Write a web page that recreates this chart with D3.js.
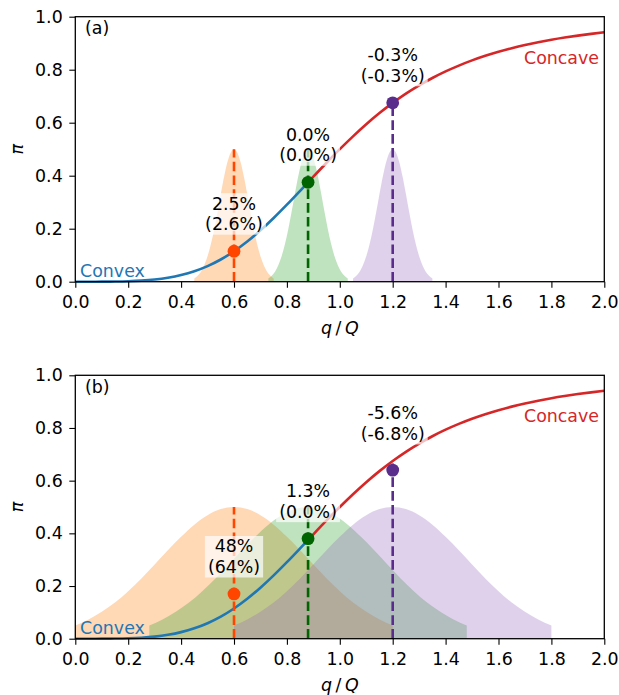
<!DOCTYPE html>
<html>
<head>
<meta charset="utf-8">
<script src="https://cdn.jsdelivr.net/npm/d3@7"></script>
<style>
body { margin: 0; background: #fff; }
text { font-family: "DejaVu Sans", sans-serif; }
</style>
</head>
<body>
<script>
// curva pi(q/Q)
var curvaX = [0, 0.05, 0.1, 0.15, 0.2, 0.25, 0.3, 0.35, 0.4, 0.45, 0.5, 0.55, 0.6, 0.65, 0.7, 0.75, 0.8, 0.85, 0.88,
              0.9, 0.95, 1.0, 1.05, 1.1, 1.15, 1.2, 1.25, 1.3, 1.35, 1.4, 1.45, 1.5, 1.55, 1.6, 1.65, 1.7, 1.75, 1.8, 1.85, 1.9, 1.95, 2.0]
var curvaY = [0, 0, 0.0001, 0.0005, 0.0016, 0.0039, 0.008, 0.0148, 0.025, 0.0394, 0.0588, 0.0838, 0.1147, 0.1515, 0.1936, 0.2404, 0.2906, 0.343, 0.3749,
              0.3962, 0.4489, 0.5, 0.5486, 0.5942, 0.6362, 0.6747, 0.7094, 0.7407, 0.7686, 0.7935, 0.8155, 0.8351, 0.8523, 0.8676, 0.8811, 0.8931, 0.9036, 0.913, 0.9213, 0.9287, 0.9353, 0.9412]
var corte = 0.88

var centros = [0.6, 0.88, 1.2]

// forma de las distribuciones (desplazamiento respecto al centro, altura)
var offsetsA = [-0.15, -0.1375, -0.125, -0.1125, -0.1, -0.0875, -0.075, -0.0625, -0.05, -0.0375, -0.025, -0.0125, 0,
                0.0125, 0.025, 0.0375, 0.05, 0.0625, 0.075, 0.0875, 0.1, 0.1125, 0.125, 0.1375, 0.15]
var alturasA = [0.012, 0.022, 0.038, 0.062, 0.096, 0.141, 0.197, 0.262, 0.331, 0.396, 0.451, 0.487, 0.5,
                0.487, 0.451, 0.396, 0.331, 0.262, 0.197, 0.141, 0.096, 0.062, 0.038, 0.022, 0.012]
var offsetsB = [-0.6, -0.55, -0.5, -0.45, -0.4, -0.35, -0.3, -0.25, -0.2, -0.15, -0.1, -0.05, 0,
                0.05, 0.1, 0.15, 0.2, 0.25, 0.3, 0.35, 0.4, 0.45, 0.5, 0.55, 0.6]
var alturasB = [0.05, 0.073, 0.102, 0.137, 0.18, 0.229, 0.282, 0.336, 0.387, 0.433, 0.469, 0.492, 0.5,
                0.492, 0.469, 0.433, 0.387, 0.336, 0.282, 0.229, 0.18, 0.137, 0.102, 0.073, 0.05]

var puntosA = [0.115, 0.375, 0.675]
var puntosB = [0.17, 0.38, 0.64]
var topesLinea = [0.5, 0.5, 0.675]
var etiquetasA = [["2.5%", "(2.6%)"], ["0.0%", "(0.0%)"], ["-0.3%", "(-0.3%)"]]
var etiquetasB = [["48%", "(64%)"], ["1.3%", "(0.0%)"], ["-5.6%", "(-6.8%)"]]
var baseEtiquetaA = [0.185, 0.445, 0.745]
var baseEtiquetaB = [0.24, 0.45, 0.745]

var ticksX = [0, 0.2, 0.4, 0.6, 0.8, 1.0, 1.2, 1.4, 1.6, 1.8, 2.0]
var ticksY = [0, 0.2, 0.4, 0.6, 0.8, 1.0]

var colorRelleno = ["#ff7f0e", "#2ca02c", "#9467bd"]
var colorPunto = ["#ff4500", "#006400", "#5a2d8c"]

var width = 619
var height = 695
var fs = 17.4

var svg = d3.select("body")
    .append("svg")
    .attr("width", width)
    .attr("height", height)

var left = 75.3, right = 604.3

function pintarPanel(top, bottom, nombre, offsets, alturas, puntos, etiquetas, bases) {
    var w = right - left
    var h = bottom - top
    var g = svg.append("g").attr("transform", "translate(" + left + "," + top + ")")

    var escalaX = d3.scaleLinear().domain([0, 2]).range([0, w])
    var escalaY = d3.scaleLinear().domain([0, 1]).range([h, 0])

    // distribuciones
    var area = d3.area()
        .x(d => escalaX(d[0]))
        .y0(escalaY(0))
        .y1(d => escalaY(d[1]))
        .curve(d3.curveMonotoneX)
    centros.forEach(function (c, i) {
        var pts = offsets.map((o, j) => [c + o, alturas[j]])
        g.append("path")
            .datum(pts)
            .attr("d", area)
            .attr("fill", colorRelleno[i])
            .attr("fill-opacity", 0.3)
    })

    // curva convexa / concava
    var linea = d3.line()
        .x(d => escalaX(d[0]))
        .y(d => escalaY(d[1]))
        .curve(d3.curveMonotoneX)
    var pares = curvaX.map((x, i) => [x, curvaY[i]])
    g.append("path")
        .datum(pares.filter(d => d[0] <= corte))
        .attr("d", linea)
        .attr("fill", "none")
        .attr("stroke", "#1f77b4")
        .attr("stroke-width", 2.6)
    g.append("path")
        .datum(pares.filter(d => d[0] >= corte))
        .attr("d", linea)
        .attr("fill", "none")
        .attr("stroke", "#d62728")
        .attr("stroke-width", 2.6)

    // lineas discontinuas
    centros.forEach(function (c, i) {
        g.append("line")
            .attr("x1", escalaX(c)).attr("x2", escalaX(c))
            .attr("y1", escalaY(0)).attr("y2", escalaY(topesLinea[i]))
            .attr("stroke", colorPunto[i])
            .attr("stroke-width", 2.6)
            .attr("stroke-dasharray", "9.6,4.2")
    })

    // puntos
    g.selectAll("circle")
        .data(puntos)
        .enter()
        .append("circle")
        .attr("cx", (d, i) => escalaX(centros[i]))
        .attr("cy", d => escalaY(d))
        .attr("r", 6.4)
        .attr("fill", (d, i) => colorPunto[i])

    // etiquetas con caja
    etiquetas.forEach(function (lineas, i) {
        var y2 = escalaY(bases[i]) - 2.5
        var t = g.append("text")
            .attr("text-anchor", "middle")
            .attr("font-size", fs)
            .attr("fill", "#000")
        t.append("tspan").attr("x", escalaX(centros[i])).attr("y", y2 - 20.5).text(lineas[0])
        t.append("tspan").attr("x", escalaX(centros[i])).attr("y", y2).text(lineas[1])
        var bb = t.node().getBBox()
        g.insert("rect", function () { return t.node() })
            .attr("x", bb.x - 3).attr("y", bb.y - 0.5)
            .attr("width", bb.width + 6).attr("height", bb.height + 1)
            .attr("fill", "#fff")
            .attr("fill-opacity", 0.7)
    })

    g.append("text")
        .attr("x", escalaX(0.018)).attr("y", h - 5)
        .attr("font-size", fs)
        .attr("fill", "#1f77b4")
        .text("Convex")
    g.append("text")
        .attr("x", escalaX(1.98)).attr("y", escalaY(0.823))
        .attr("text-anchor", "end")
        .attr("font-size", fs)
        .attr("fill", "#d62728")
        .text("Concave")
    g.append("text")
        .attr("x", 9.7).attr("y", 17.8)
        .attr("font-size", fs)
        .text(nombre)

    // ejes
    var ejeX = d3.axisBottom(escalaX).tickValues(ticksX).tickFormat(d3.format(".1f")).tickSize(6).tickPadding(8)
    var ejeY = d3.axisLeft(escalaY).tickValues(ticksY).tickFormat(d3.format(".1f")).tickSize(6).tickPadding(6.6)
    var gx = g.append("g").attr("transform", "translate(0," + h + ")").call(ejeX)
    var gy = g.append("g").call(ejeY)
    ;[gx, gy].forEach(function (a) {
        a.select(".domain").remove()
        a.selectAll("line").attr("stroke", "#000").attr("stroke-width", 1.1)
        a.selectAll("text").attr("font-size", fs).attr("font-family", "DejaVu Sans").attr("fill", "#000")
    })

    g.append("rect")
        .attr("width", w).attr("height", h)
        .attr("fill", "none")
        .attr("stroke", "#000")
        .attr("stroke-width", 1.3)

    // titulos de ejes
    var xl = g.append("text")
        .attr("x", w / 2).attr("y", h + 52.5)
        .attr("text-anchor", "middle")
        .attr("font-size", fs)
    xl.append("tspan").attr("font-style", "italic").text("q")
    xl.append("tspan").text("\u2009/\u2009")
    xl.append("tspan").attr("font-style", "italic").text("Q")

    svg.append("text")
        .attr("transform", "translate(23," + (top + h / 2) + ") rotate(-90)")
        .attr("text-anchor", "middle")
        .attr("font-size", fs)
        .attr("font-style", "italic")
        .text("\u03c0")
}

pintarPanel(16.7, 281.7, "(a)", offsetsA, alturasA, puntosA, etiquetasA, baseEtiquetaA)
pintarPanel(375.3, 638.7, "(b)", offsetsB, alturasB, puntosB, etiquetasB, baseEtiquetaB)
</script>
</body>
</html>
